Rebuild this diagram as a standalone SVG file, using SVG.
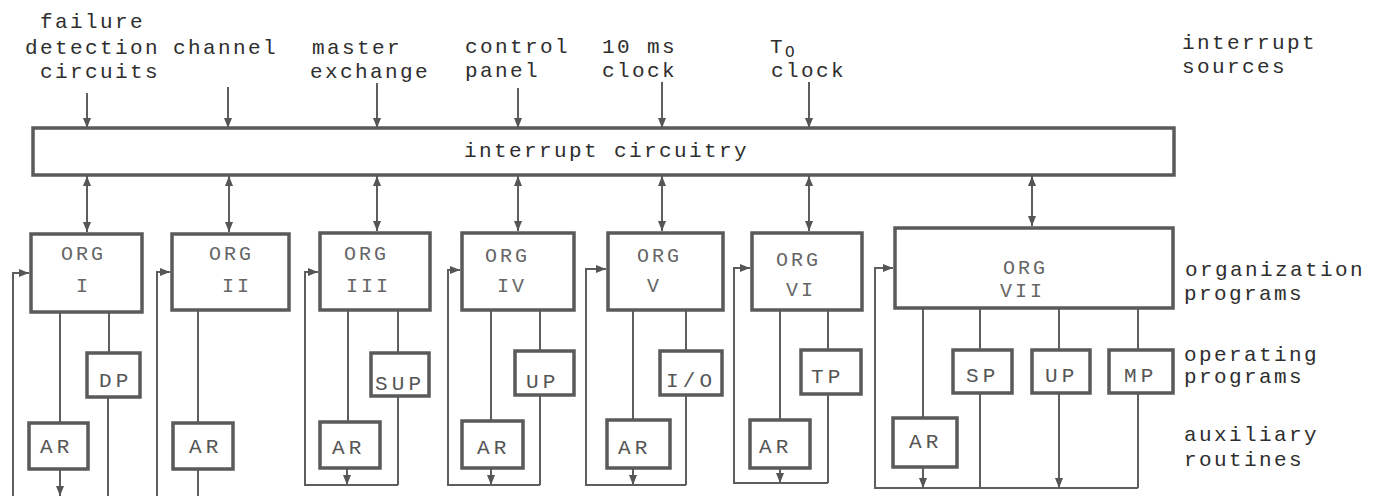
<svg xmlns="http://www.w3.org/2000/svg" width="1382" height="496" viewBox="0 0 1382 496">
<defs>
<marker id="ah" markerUnits="userSpaceOnUse" markerWidth="10" markerHeight="8" refX="10" refY="4" orient="auto-start-reverse" viewBox="0 0 10 8">
<path d="M0,0 L10,4 L0,8 z" fill="#555"/>
</marker>
<style>
.lbl{font-family:"Liberation Mono","DejaVu Sans Mono",monospace;font-size:21px;letter-spacing:2.4px;fill:#2e2e2e}
.org{font-family:"Liberation Mono","DejaVu Sans Mono",monospace;font-size:20px;letter-spacing:3px;fill:#666}
.sub{font-family:"Liberation Mono","DejaVu Sans Mono",monospace;font-size:21px;letter-spacing:4.2px;fill:#555}
.box{fill:#fff;stroke:#5a5a5a;stroke-width:3.5}
.ln{fill:none;stroke:#5e5e5e;stroke-width:2}
.ar{fill:none;stroke:#5e5e5e;stroke-width:2;marker-end:url(#ah)}
.bi{fill:none;stroke:#5e5e5e;stroke-width:2;marker-start:url(#ah);marker-end:url(#ah)}
</style>
</defs>
<rect width="1382" height="496" fill="#fff"/>

<g id="source-labels">
<text class="lbl" x="40" y="28">failure</text>
<text class="lbl" x="25" y="54">detection</text>
<text class="lbl" x="40" y="78">circuits</text>
<text class="lbl" x="173" y="54">channel</text>
<text class="lbl" x="312" y="54">master</text>
<text class="lbl" x="310" y="78">exchange</text>
<text class="lbl" x="465" y="53">control</text>
<text class="lbl" x="465" y="77">panel</text>
<text class="lbl" x="602" y="53">10 ms</text>
<text class="lbl" x="602" y="77">clock</text>
<text class="lbl" x="770" y="53">T<tspan font-size="16" dy="4" letter-spacing="0">O</tspan></text>
<text class="lbl" x="771" y="77">clock</text>
<text class="lbl" x="1182" y="49">interrupt</text>
<text class="lbl" x="1182" y="73">sources</text>
</g>

<g id="level-labels">
<text class="lbl" x="1185" y="276">organization</text>
<text class="lbl" x="1184" y="300">programs</text>
<text class="lbl" x="1184" y="361">operating</text>
<text class="lbl" x="1184" y="383">programs</text>
<text class="lbl" x="1184" y="441">auxiliary</text>
<text class="lbl" x="1184" y="466">routines</text>
</g>

<g id="connectors">
<path class="ar" d="M87,93 V128"/>
<path class="ar" d="M228,87 V128"/>
<path class="ar" d="M377,83 V128"/>
<path class="ar" d="M518,88 V128"/>
<path class="ar" d="M662,82 V128"/>
<path class="ar" d="M809,82 V128"/>
<path class="bi" d="M87,176 V232"/>
<path class="bi" d="M229,176 V232"/>
<path class="bi" d="M377,176 V231"/>
<path class="bi" d="M518,176 V231"/>
<path class="bi" d="M662,176 V231"/>
<path class="bi" d="M809,176 V231"/>
<path class="bi" d="M1032,176 V226"/>
<path class="ln" d="M60,312 V423"/>
<path class="ln" d="M109,312 V353"/>
<path class="ln" d="M108,397 V496"/>
<path class="ar" d="M60,469 V496"/>
<path class="ar" d="M13,496 V273 H29"/>
<path class="ln" d="M198,310 V423"/>
<path class="ln" d="M198,469 V496"/>
<path class="ar" d="M157,496 V272 H170"/>
<path class="ln" d="M348,310 V422"/>
<path class="ln" d="M398,310 V353"/>
<path class="ln" d="M398,396 V485"/>
<path class="ar" d="M347,468 V485"/>
<path class="ar" d="M398,485 H305 V272 H318"/>
<path class="ln" d="M491,310 V421"/>
<path class="ln" d="M540,310 V351"/>
<path class="ln" d="M540,395 V485"/>
<path class="ar" d="M491,468 V485"/>
<path class="ar" d="M540,485 H448 V270 H460"/>
<path class="ln" d="M633,310 V420"/>
<path class="ln" d="M686,310 V351"/>
<path class="ln" d="M686,395 V485"/>
<path class="ar" d="M633,468 V485"/>
<path class="ar" d="M686,485 H586 V269 H606"/>
<path class="ln" d="M780,310 V420"/>
<path class="ln" d="M828,310 V350"/>
<path class="ln" d="M828,394 V483"/>
<path class="ar" d="M780,468 V483"/>
<path class="ar" d="M828,483 H734 V268 H750"/>
<path class="ln" d="M923,308 V418"/>
<path class="ln" d="M980,308 V350"/>
<path class="ln" d="M1059,308 V350"/>
<path class="ln" d="M1138,308 V350"/>
<path class="ln" d="M980,393 V488"/>
<path class="ar" d="M1059,393 V488"/>
<path class="ln" d="M1138,393 V488"/>
<path class="ar" d="M923,467 V488"/>
<path class="ar" d="M1138,488 H875 V268 H893"/>
</g>

<g id="interrupt-circuitry">
<rect class="box" x="33" y="128" width="1141" height="47"/>
<text class="lbl" x="464" y="157">interrupt circuitry</text>
</g>

<g id="org1"><rect class="box" x="31" y="234" width="111" height="78"/><text class="org" x="61" y="260">ORG</text><text class="org" x="76" y="292">I</text></g>
<g id="org2"><rect class="box" x="172" y="234" width="117" height="76"/><text class="org" x="209" y="260">ORG</text><text class="org" x="222" y="292">II</text></g>
<g id="org3"><rect class="box" x="320" y="233" width="110" height="77"/><text class="org" x="344" y="260">ORG</text><text class="org" x="346" y="292">III</text></g>
<g id="org4"><rect class="box" x="462" y="233" width="112" height="77"/><text class="org" x="485" y="262">ORG</text><text class="org" x="497" y="292">IV</text></g>
<g id="org5"><rect class="box" x="608" y="233" width="115" height="77"/><text class="org" x="637" y="262">ORG</text><text class="org" x="647" y="292">V</text></g>
<g id="org6"><rect class="box" x="752" y="233" width="110" height="77"/><text class="org" x="776" y="266">ORG</text><text class="org" x="786" y="296">VI</text></g>
<g id="org7"><rect class="box" x="895" y="228" width="278" height="80"/><text class="org" x="1003" y="274">ORG</text><text class="org" x="1000" y="297">VII</text></g>

<g id="dp1"><rect class="box" x="87" y="353" width="53" height="44"/><text class="sub" x="99" y="387">DP</text></g>
<g id="ar1"><rect class="box" x="29" y="423" width="59" height="46"/><text class="sub" x="40" y="453">AR</text></g>
<g id="ar2"><rect class="box" x="173" y="423" width="60" height="46"/><text class="sub" x="189" y="453">AR</text></g>
<g id="sup3"><rect class="box" x="371" y="353" width="58" height="43"/><text class="sub" x="375" y="390">SUP</text></g>
<g id="ar3"><rect class="box" x="320" y="422" width="60" height="46"/><text class="sub" x="332" y="454">AR</text></g>
<g id="up4"><rect class="box" x="515" y="351" width="59" height="44"/><text class="sub" x="526" y="388">UP</text></g>
<g id="ar4"><rect class="box" x="462" y="421" width="61" height="47"/><text class="sub" x="477" y="454">AR</text></g>
<g id="io5"><rect class="box" x="660" y="351" width="62" height="44"/><text class="sub" x="666" y="387">I/O</text></g>
<g id="ar5"><rect class="box" x="607" y="420" width="63" height="48"/><text class="sub" x="618" y="454">AR</text></g>
<g id="tp6"><rect class="box" x="801" y="350" width="60" height="44"/><text class="sub" x="811" y="383">TP</text></g>
<g id="ar6"><rect class="box" x="750" y="420" width="60" height="48"/><text class="sub" x="759" y="453">AR</text></g>
<g id="sp7"><rect class="box" x="953" y="350" width="59" height="43"/><text class="sub" x="966" y="382">SP</text></g>
<g id="up7"><rect class="box" x="1032" y="350" width="58" height="43"/><text class="sub" x="1045" y="382">UP</text></g>
<g id="mp7"><rect class="box" x="1109" y="350" width="64" height="43"/><text class="sub" x="1124" y="382">MP</text></g>
<g id="ar7"><rect class="box" x="893" y="418" width="64" height="49"/><text class="sub" x="909" y="448">AR</text></g>
</svg>
